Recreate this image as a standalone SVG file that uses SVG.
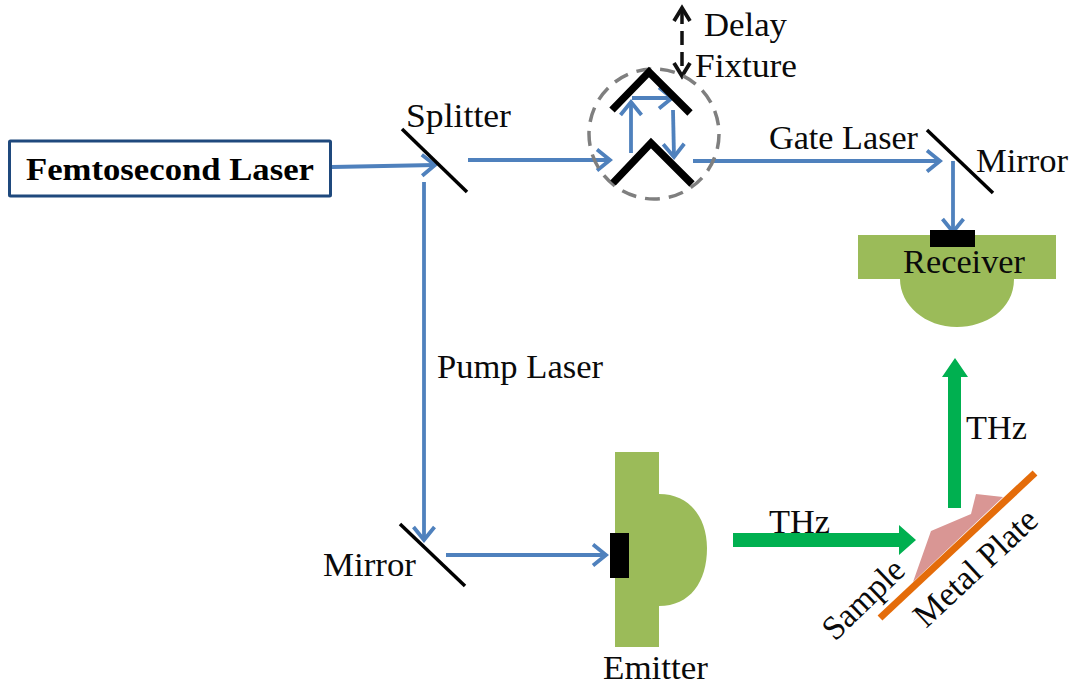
<svg xmlns="http://www.w3.org/2000/svg" width="1072" height="685" viewBox="0 0 1072 685">
<style>
text{font-family:"Liberation Serif","Times New Roman",serif;font-size:34px;fill:#0a0a0a}
.m{stroke:#000;stroke-width:3.5;fill:none}
.v{stroke:#000;stroke-width:7.500;fill:none}
.b{stroke:#4f81bd;stroke-width:3.800;fill:none;marker-end:url(#ah)}
.g{fill:#00b050}
.lens{fill:#9bbb59}
</style>
<defs>
<marker id="ah" markerUnits="userSpaceOnUse" markerWidth="20" markerHeight="26" refX="17" refY="13" orient="auto"><path d="M4 2.500L17 13L4 23.500" fill="none" stroke="#4f81bd" stroke-width="3.800"/></marker>
</defs>
<g id="connectors">
<path class="b" d="M332 167L435 165"/>
<path class="b" d="M424 182L424 540"/>
<path class="b" d="M468 160L610 160"/>
<path class="b" d="M446 555L606 555"/>
<path class="b" d="M631 153L631 102"/>
<path class="b" d="M632 98L672 98"/>
<path class="b" d="M673 110L674 157"/>
<path class="b" d="M693 161L940 161"/>
<path class="b" d="M953 161L953 232"/>
<path d="M682 10L682 74" fill="none" stroke="#111" stroke-width="3.500" stroke-dasharray="14 7"/>
<path d="M674 21L682 8L690 21M674 63L682 76L690 63" fill="none" stroke="#111" stroke-width="3.800"/>
</g>
<g id="laser"><rect x="9.500" y="141" width="321" height="55" fill="#fff" stroke="#1f497d" stroke-width="3" rx="1"/><text x="26" y="180" textLength="288" lengthAdjust="spacingAndGlyphs" style="font-weight:bold;font-size:32px;fill:#000">Femtosecond Laser</text></g>
<g id="splitter"><path class="m" d="M402 129L467 192"/><text x="406" y="127" textLength="105" lengthAdjust="spacingAndGlyphs">Splitter</text></g>
<g id="delay"><circle cx="654" cy="134" r="65" fill="none" stroke="#7f7f7f" stroke-width="3.500" stroke-dasharray="15 9"/><path class="v" d="M612 110L649 72L690 113"/><path class="v" d="M613 183L651 143L692 184"/><text x="704" y="36" textLength="83" lengthAdjust="spacingAndGlyphs">Delay</text><text x="695" y="77" textLength="102" lengthAdjust="spacingAndGlyphs">Fixture</text></g>
<g id="gate"><text x="769" y="149" textLength="149" lengthAdjust="spacingAndGlyphs">Gate Laser</text></g>
<g id="mirror1"><path class="m" d="M927 130L993 193"/><text x="976" y="172" textLength="92" lengthAdjust="spacingAndGlyphs">Mirror</text></g>
<g id="receiver"><path class="lens" d="M858 235H1056V279H1014C1014 310 985 327 957 327C925 327 900 305 900 279H858Z"/><rect x="930" y="230" width="45" height="17" fill="#000"/><text x="903" y="273" textLength="122" lengthAdjust="spacingAndGlyphs">Receiver</text></g>
<g id="pump"><text x="437" y="378" textLength="166" lengthAdjust="spacingAndGlyphs">Pump Laser</text></g>
<g id="mirror2"><path class="m" d="M400 524L465 586"/><text x="323" y="576" textLength="93" lengthAdjust="spacingAndGlyphs">Mirror</text></g>
<g id="emitter"><path class="lens" d="M615 452H659V494C690 494 707 518 707 548C707 582 690 606 659 606V647H615Z"/><rect x="610" y="533" width="19" height="45" fill="#000"/><text x="603" y="679" textLength="105" lengthAdjust="spacingAndGlyphs">Emitter</text></g>
<g id="thz1"><path class="g" d="M733 533H899V525L916 540L899 555V547H733Z"/><text x="769" y="533" textLength="61" lengthAdjust="spacingAndGlyphs">THz</text></g>
<g id="thz2"><path class="g" d="M948 508V377H942L955 358L968 377H961V508Z"/><text x="966" y="439" textLength="61" lengthAdjust="spacingAndGlyphs">THz</text></g>
<g id="sample"><path d="M913 582L931 531L971 514L976 494L1003 497Z" fill="#d99694"/><path d="M880 618L1035 473" stroke="#e46c0a" stroke-width="7" fill="none"/><text transform="translate(835 642) rotate(-44)" textLength="100" lengthAdjust="spacingAndGlyphs">Sample</text><text transform="translate(926 629) rotate(-43)" textLength="156" lengthAdjust="spacingAndGlyphs">Metal Plate</text></g>
</svg>
